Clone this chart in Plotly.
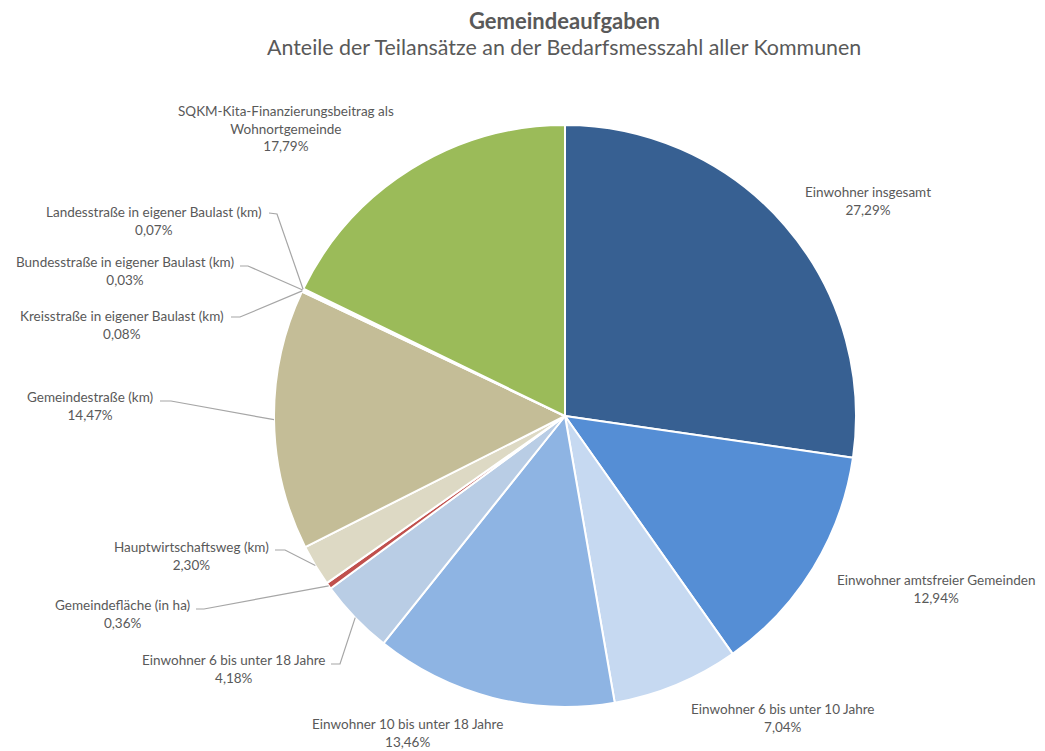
import math
import plotly.graph_objects as go

# ---------------- data ----------------
categories = [
    "Einwohner insgesamt",
    "Einwohner amtsfreier Gemeinden",
    "Einwohner 6 bis unter 10 Jahre",
    "Einwohner 10 bis unter 18 Jahre",
    "Einwohner 6 bis unter 18 Jahre",
    "Gemeindefläche (in ha)",
    "Hauptwirtschaftsweg (km)",
    "Gemeindestraße (km)",
    "Kreisstraße in eigener Baulast (km)",
    "Bundesstraße in eigener Baulast (km)",
    "Landesstraße in eigener Baulast (km)",
    "SQKM-Kita-Finanzierungsbeitrag als<br>Wohnortgemeinde",
]
shares = [27.29, 12.94, 7.04, 13.46, 4.18, 0.36, 2.30, 14.47, 0.08, 0.03, 0.07, 17.79]
colors = ["#376092", "#558ED5", "#C6D9F1", "#8EB4E3", "#B9CDE5", "#C0504D",
          "#DDD9C4", "#C4BD97", "#948A54", "#4F81BD", "#F79646", "#9BBB59"]

# ---------------- layout geometry (pixels in the screenshot) ----------------
SW, SH = 1045, 751          # screenshot size
OFF = 8                     # default page body margin
W, H = SW - OFF, SH - OFF   # figure size
CX, CY, R = 565, 416, 291

# label block centres
label_pos = [
    (868, 201), (936, 589), (783, 718), (407, 733), (234, 669), (122, 614),
    (191, 556), (90, 406), (122, 325), (125, 271), (154, 221), (286, 129),
]
# leader line: (start, elbow) in pixels, None = no leader
leaders = [
    None, None, None, None,
    ((331, 664), (340, 664)),
    ((196, 609), (204, 609)),
    ((275, 550), (285, 550)),
    ((160, 401), (171, 401)),
    ((231, 317), (240, 317)),
    ((240, 266), (248, 266)),
    ((269, 213), (277, 214)),
    None,
]

def px(x):
    return (x - OFF) / W

def py(y):
    return 1 - (y - OFF) / H

TEXT = "#595959"
FONT = "Lato"

fig = go.Figure(go.Pie(
    labels=categories,
    values=shares,
    sort=False,
    direction="clockwise",
    rotation=0,
    marker=dict(colors=colors, line=dict(color="white", width=2)),
    textinfo="none",
    hoverinfo="label+percent",
    domain=dict(x=[px(CX - R), px(CX + R)], y=[py(CY + R), py(CY - R)]),
    showlegend=False,
))

total = sum(shares)
annotations = []
shapes = []
cum = 0.0
for i, (cat, v) in enumerate(zip(categories, shares)):
    mid = (cum + v / 2) / total * 2 * math.pi
    cum += v
    ax = CX + R * math.sin(mid)
    ay = CY - R * math.cos(mid)
    lx, ly = label_pos[i]
    txt = f"{cat}<br>{v:.2f}%".replace(".", ",")
    annotations.append(dict(
        x=px(lx), y=py(ly), xref="paper", yref="paper", text=txt,
        showarrow=False, xanchor="center", yanchor="middle", align="center",
        font=dict(family=FONT, size=13.5, color=TEXT),
    ))
    if leaders[i] is not None:
        (sx, sy), (ex, ey) = leaders[i]
        path = (f"M {px(sx)} {py(sy)} L {px(ex)} {py(ey)} "
                f"L {px(ax)} {py(ay)}")
        shapes.append(dict(type="path", path=path, xref="paper", yref="paper",
                           line=dict(color="#A6A6A6", width=1.2)))

annotations.append(dict(
    x=px(564), y=py(20), xref="paper", yref="paper",
    text="<b>Gemeindeaufgaben</b>", showarrow=False,
    xanchor="center", yanchor="middle",
    font=dict(family=FONT, size=22, color=TEXT)))
annotations.append(dict(
    x=px(564), y=py(47), xref="paper", yref="paper",
    text="Anteile der Teilansätze an der Bedarfsmesszahl aller Kommunen",
    showarrow=False, xanchor="center", yanchor="middle",
    font=dict(family=FONT, size=21.4, color=TEXT)))

fig.update_layout(
    width=W, height=H, autosize=False,
    margin=dict(l=0, r=0, t=0, b=0),
    paper_bgcolor="white", plot_bgcolor="white",
    annotations=annotations, shapes=shapes,
)

fig.write_html("out.html")
